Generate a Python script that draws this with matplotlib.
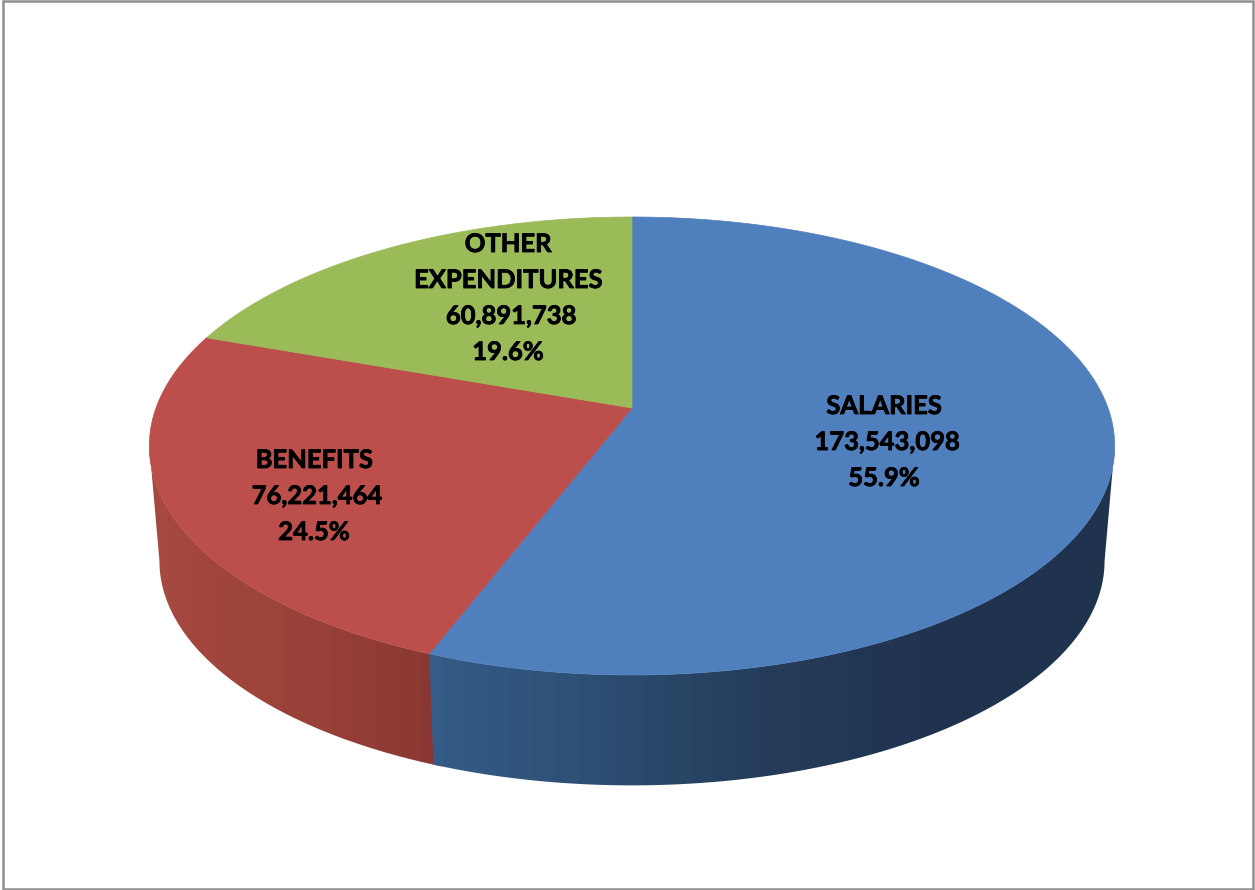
# 3D style pie of expenditures, drawn by hand on a pixel sized axes

import numpy as np
import matplotlib
matplotlib.use("Agg")
import matplotlib.pyplot as plt
import matplotlib.patheffects as pe
from matplotlib.colors import LinearSegmentedColormap
from matplotlib.patches import Polygon, Rectangle

names = ["SALARIES", "BENEFITS", "OTHER\nEXPENDITURES"]
values = [173543098, 76221464, 60891738]

top_colors = ["#4f7fbc", "#bc4f4c", "#9bbb59"]
side_colors = [["#355c88", "#2c4d72", "#253c5a", "#1f324e", "#1f324e"],
               ["#a6493f", "#9a4239", "#8a3733"]]
side_ranges = [(420, 1120), (145, 445)]
label_pos = [(884, 406), (314, 460), (508, 244)]

plt.rcParams["font.family"] = ["Lato", "DejaVu Sans"]

W, H = 1255, 890
fig = plt.figure(figsize=(W / 100, H / 100), dpi=100)
ax = fig.add_axes([0, 0, 1, 1])
ax.set_xlim(0, W)
ax.set_ylim(H, 0)
ax.axis("off")

cx = 632
k = 0.1659  # perspective strength


def rim(deg, a, b, y0):
    # clockwise angle from the far point of the disc -> screen position
    t = np.radians(deg)
    w = 1 + k * np.cos(t)
    return cx + a * np.sin(t) / w, y0 - b * np.cos(t) / w


def top_rim(deg):
    return rim(deg, 476, 222.7, 408)


def low_rim(deg):
    return rim(deg, 466, 218, 524)


ax.add_patch(Rectangle((3, 1), W - 5, H - 2, fc="white", ec="#8f8f8f", lw=1.8))

fractions = np.array(values) / sum(values)
edges = np.concatenate([[0], np.cumsum(fractions) * 360])

# the visible side wall runs between the two widest points of the rim
vis_from = 99.5
vis_to = 260.5

# red wall first so the blue one covers the seam
for i in [1, 0]:
    start = max(edges[i], vis_from)
    end = min(edges[i + 1], vis_to)
    if i == 1:
        start -= 1
    angles = np.linspace(start, end, 200)
    x1, y1 = top_rim(angles)
    x2, y2 = low_rim(angles)
    pts = np.column_stack([np.r_[x1, x2[::-1]], np.r_[y1, y2[::-1]]])
    wall = Polygon(pts, closed=True, fc="none", ec="none")
    ax.add_patch(wall)
    # horizontal shading in wide steps
    cmap = LinearSegmentedColormap.from_list("", side_colors[i])
    x_lo, x_hi = side_ranges[i]
    steps = max(2, (x_hi - x_lo) // 22)
    shade = np.linspace(0, 1, steps).reshape(1, -1)
    img = ax.imshow(shade, cmap=cmap, extent=(x_lo, x_hi, 800, 400),
                    aspect="auto", interpolation="nearest", zorder=2 + (1 - i) * 0.1)
    img.set_clip_path(wall)
    ax.set_xlim(0, W)
    ax.set_ylim(H, 0)

for i in range(3):
    angles = np.linspace(edges[i], edges[i + 1], 300)
    x, y = top_rim(angles)
    xs = np.r_[cx, x]
    ys = np.r_[408, y]
    ax.fill(xs, ys, color=top_colors[i], lw=0.5, zorder=3)

for i in range(3):
    lines = names[i].split("\n") + [f"{values[i]:,}", f"{fractions[i] * 100:.1f}%"]
    x, y = label_pos[i]
    for j, line in enumerate(lines):
        # the figures sit a little right of the words
        off = 3 if line[0].isdigit() and "%" not in line else 0
        txt = ax.text(x + off, y + j * 36, line, ha="center", va="center",
                      fontsize=18.4, fontweight="bold", color="black", zorder=5)
        txt.set_path_effects([pe.withStroke(linewidth=0.6, foreground="black")])

fig.savefig("out.png", dpi=100)
